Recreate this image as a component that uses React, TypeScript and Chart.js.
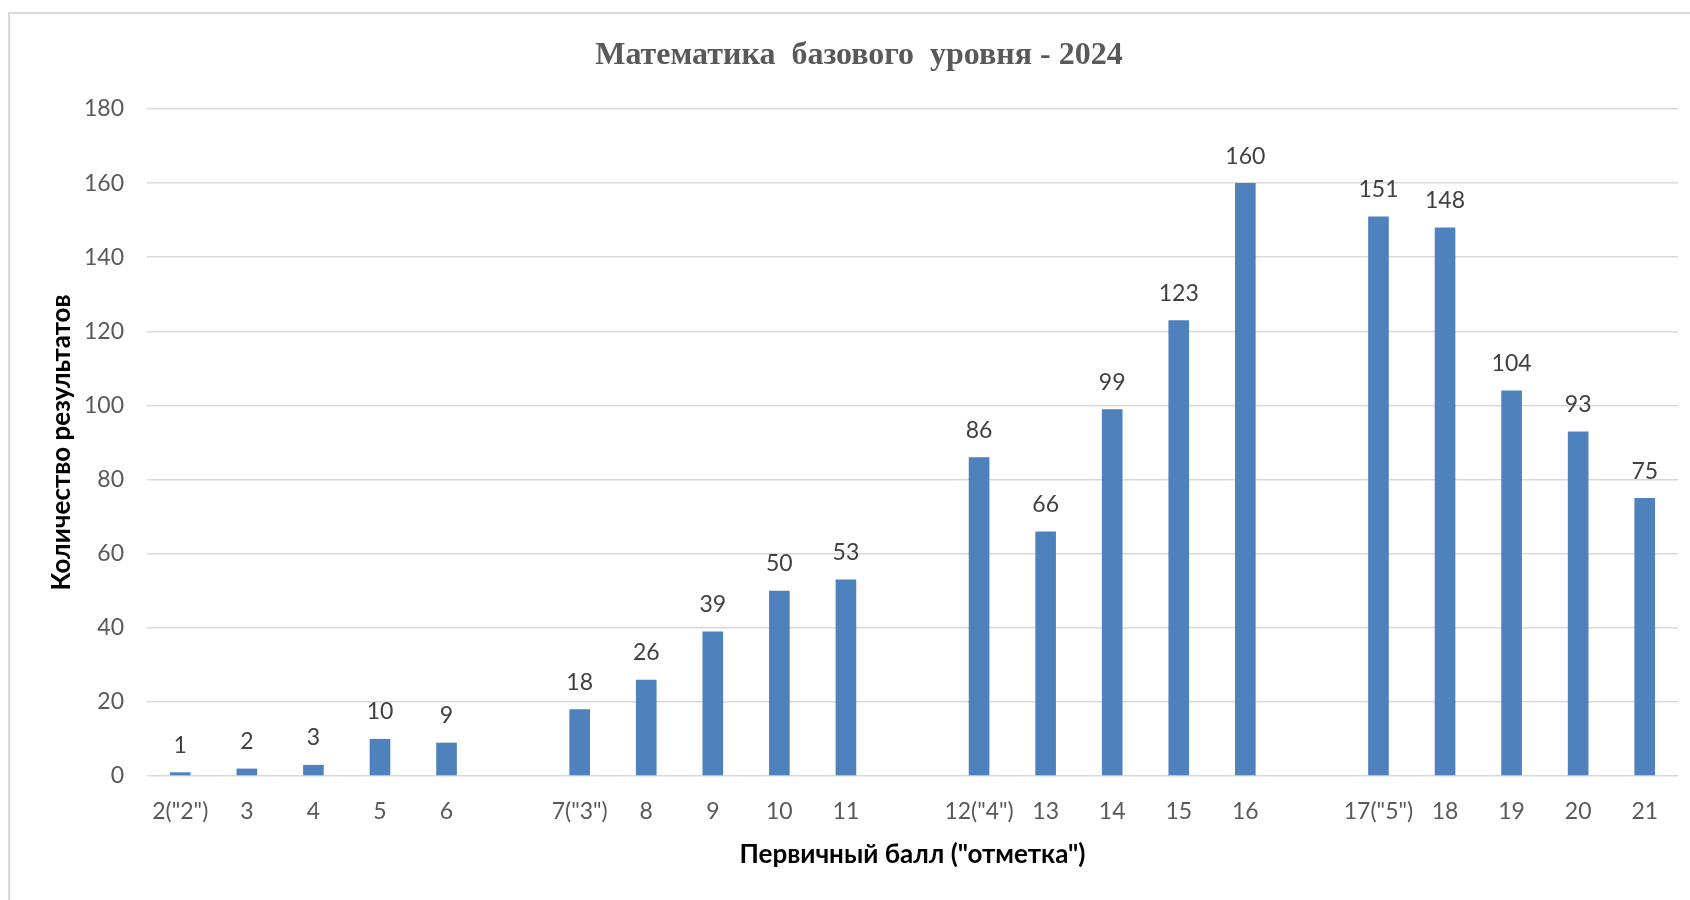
import React, { useEffect, useRef } from "react";
import { Chart, registerables } from "chart.js";

Chart.register(...registerables);

const categories: string[] = [
  '2("2")', "3", "4", "5", "6", "",
  '7("3")', "8", "9", "10", "11", "",
  '12("4")', "13", "14", "15", "16", "",
  '17("5")', "18", "19", "20", "21",
];

const counts: (number | null)[] = [
  1, 2, 3, 10, 9, null,
  18, 26, 39, 50, 53, null,
  86, 66, 99, 123, 160, null,
  151, 148, 104, 93, 75,
];

const yMin = 0;
const yMax = 180;
const yStep = 20;

const chartTitle = "Математика  базового  уровня - 2024";
const xTitle = 'Первичный балл ("отметка")';
const yTitle = "Количество результатов";

const TICK_FONT = "Lato";
const TITLE_FONT = "'Liberation Serif', 'Times New Roman', serif";

export default function App() {
  const ref = useRef<HTMLCanvasElement | null>(null);

  useEffect(() => {
    if (!ref.current) return;
    const valueLabels = {
      id: "valueLabels",
      afterDatasetsDraw(chart: any) {
        const ctx = chart.ctx;
        const meta = chart.getDatasetMeta(0);
        ctx.save();
        ctx.font = `23px ${TICK_FONT}`;
        ctx.fillStyle = "#404040";
        ctx.textAlign = "center";
        ctx.textBaseline = "middle";
        meta.data.forEach((el: any, i: number) => {
          const v = counts[i];
          if (v === null || v === undefined) return;
          ctx.fillText(String(v), el.x, el.y - 27);
        });
        ctx.restore();
      },
    };

    const chart = new Chart(ref.current, {
      type: "bar",
      data: {
        labels: categories,
        datasets: [
          {
            data: counts as any,
            backgroundColor: "#4f81bd",
            borderWidth: 0,
            barPercentage: 1,
            categoryPercentage: 0.31,
          },
        ],
      },
      options: {
        responsive: false,
        animation: false,
        layout: { padding: { left: 40, right: 12, top: 0, bottom: 0 } },
        plugins: {
          legend: { display: false },
          tooltip: { enabled: false },
          title: {
            display: true,
            text: chartTitle,
            color: "#595959",
            font: { family: TITLE_FONT, size: 32, weight: "bold" },
            padding: { top: 36.8, bottom: 33.8 },
          },
        },
        scales: {
          x: {
            grid: { display: false, drawTicks: false },
            border: { display: false },
            ticks: {
              color: "#595959",
              font: { family: TICK_FONT, size: 23 },
              padding: 22,
              autoSkip: false,
              maxRotation: 0,
              minRotation: 0,
            },
            title: {
              display: true,
              text: xTitle,
              color: "#000000",
              font: { family: TICK_FONT, size: 26, weight: "bold" },
              padding: { top: 0, bottom: 29.4 },
            },
            afterFit(scale: any) {
              scale.height = 124;
            },
          },
          y: {
            min: yMin,
            max: yMax,
            grid: { color: "#d9d9d9", lineWidth: 1.5, drawTicks: false },
            border: { display: false },
            ticks: {
              stepSize: yStep,
              color: "#595959",
              font: { family: TICK_FONT, size: 23 },
              padding: 23,
            },
            title: {
              display: true,
              text: yTitle,
              color: "#000000",
              font: { family: TICK_FONT, size: 26, weight: "bold" },
              padding: { top: 6.4, bottom: 0 },
            },
            afterFit(scale: any) {
              scale.width = 107;
            },
          },
        },
      },
      plugins: [valueLabels],
    });
    return () => chart.destroy();
  }, []);

  return (
    <div
      style={{
        position: "fixed",
        left: 0,
        top: 0,
        width: 1690,
        height: 900,
        overflow: "hidden",
        background: "#ffffff",
      }}
    >
      <div
        style={{
          position: "absolute",
          left: 8,
          top: 12,
          width: 1700,
          height: 900,
          border: "2px solid #d9d9d9",
          boxSizing: "border-box",
        }}
      />
      <canvas
        ref={ref}
        width={1690}
        height={900}
        style={{ position: "absolute", left: 0, top: 0 }}
      />
    </div>
  );
}
